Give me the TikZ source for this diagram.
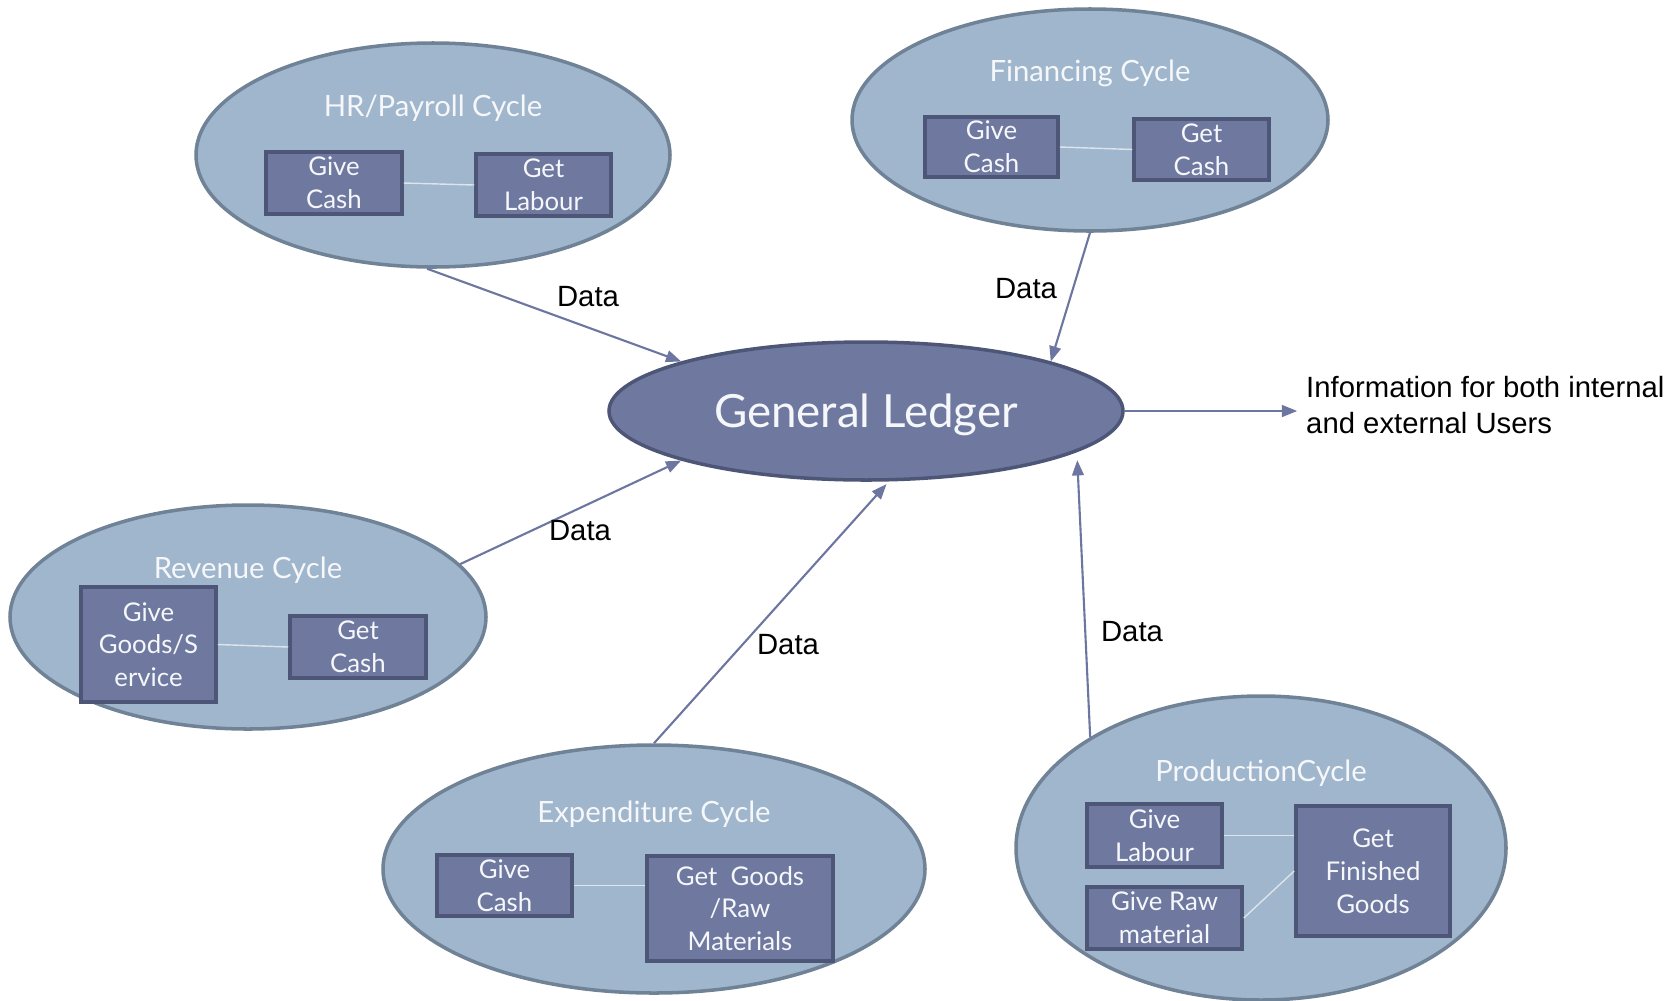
\documentclass[tikz,border=0pt]{standalone}
\usepackage{fontspec}
\setmainfont{Lato}
\newfontfamily\arialfont{Liberation Sans}
\usetikzlibrary{shapes.geometric,arrows.meta}

\definecolor{cycfill}{HTML}{A0B6CC}
\definecolor{cycline}{HTML}{6F8296}
\definecolor{boxfill}{HTML}{6F79A0}
\definecolor{boxline}{HTML}{4E5678}
\definecolor{flowcol}{HTML}{6C76A0}
\definecolor{linkcol}{HTML}{DCE4EC}
\definecolor{softwhite}{HTML}{F5F7FA}

\tikzset{
  cyc/.style 2 args={ellipse, draw=cycline, fill=cycfill, line width=3pt,
    inner sep=0pt, minimum width=#1*0.03cm, minimum height=#2*0.03cm},
  ttl/.style={text=softwhite, inner sep=0pt, font=\fontsize{25}{29}\selectfont},
  cbox/.style 2 args={draw=boxline, fill=boxfill, line width=3pt, inner sep=0pt,
    text=softwhite, align=center, font=\fontsize{22}{28}\selectfont,
    minimum width=#1*0.03cm, minimum height=#2*0.03cm},
  link/.style={draw=linkcol, line width=1.2pt},
  flow/.style={draw=flowcol, line width=1.8pt, -{Triangle[length=13pt,width=10pt]}},
  lbl/.style={inner sep=0pt, font=\arialfont\fontsize{25}{30}\selectfont}
}

\begin{document}
\begin{tikzpicture}[x=0.03cm,y=-0.03cm]
\useasboundingbox (0,0) rectangle (1676,1000);

% cycle ellipses
\node[cyc={474}{224}] (hr) at (433,155) {};
\node[cyc={476}{222}] (fn) at (1090,120) {};
\node[cyc={476}{224}] (rv) at (248,617) {};
\node[cyc={542}{248}] (ex) at (654,869) {};
\node[cyc={490}{304}] (pd) at (1261,848) {};

% general ledger
\node[ellipse, draw=boxline, fill=boxfill, line width=3pt, inner sep=0pt,
      minimum width=514*0.03cm, minimum height=138*0.03cm,
      text height=36pt, text depth=8pt,
      text=softwhite, font=\fontsize{39}{43}\selectfont] (gl) at (866,411)
      {General Ledger};

% cycle titles
\node[ttl] (hrT) at (433,108) {HR/Payroll Cycle};
\node[ttl] (fnT) at (1090,73) {Financing Cycle};
\node[ttl] (rvT) at (248,570) {Revenue Cycle};
\node[ttl] (exT) at (654,814) {Expenditure Cycle};
\node[ttl] (pdT) at (1261,773) {ProductionCycle};

% exchange boxes
\node[cbox={136}{62}] (hrG) at (334,183) {Give\\Cash};
\node[cbox={135}{62}] (hrL) at (543.5,185) {Get\\Labour};

\node[cbox={133}{60}] (fnG) at (991.5,147) {Give\\Cash};
\node[cbox={135}{61}] (fnC) at (1201.5,149.5) {Get\\Cash};

\node[cbox={135}{115}] (rvG) at (148.5,644.5) {Give\\Goods/S\\ervice};
\node[cbox={136}{62}] (rvC) at (358,647) {Get\\Cash};

\node[cbox={135}{61}] (exG) at (504.5,885.5) {Give\\Cash};
\node[cbox={186}{105}] (exM) at (740,908.5) {Get\ \ Goods\\/Raw\\Materials};

\node[cbox={135}{63}] (pdL) at (1154.5,835.5) {Give\\Labour};
\node[cbox={155}{62}] (pdR) at (1164.5,918) {Give Raw\\material};
\node[cbox={154}{130}] (pdF) at (1373,871) {Get\\Finished\\Goods};

% links inside the cycles
\draw[link] (hrG.east) -- (hrL.west);
\draw[link] (fnG.east) -- (fnC.west);
\draw[link] (rvG.east) -- (rvC.west);
\draw[link] (exG.east) -- (exG.east -| exM.west);
\draw[link] (pdL.east) -- (pdL.east -| pdF.west);
\draw[link] (pdR.east) -- (pdF.west);

% data flows into the ledger
\draw[flow] (hr.267) -- (gl.165);
\draw[flow] (fn.270) -- (gl.15.6);
\draw[flow] (rv.14.5) -- (gl.195.6);
\draw[flow, shorten >=3pt] (ex.90) -- (gl.288.5);
\draw[flow, shorten >=7pt] (pd.147.7) -- (gl.349);

% output
\node[lbl, anchor=west, align=left] (info) at (1306,405)
  {Information for both internal\\and external Users};
\draw[flow, shorten >=7.5pt] (gl.east) -- (gl.east -| info.west);

% flow labels
\node[lbl] (d1) at (588,297) {Data};
\node[lbl] (d2) at (1026,289) {Data};
\node[lbl] (d3) at (580,531) {Data};
\node[lbl] (d4) at (788,645) {Data};
\node[lbl] (d5) at (1132,632) {Data};
\end{tikzpicture}
\end{document}
